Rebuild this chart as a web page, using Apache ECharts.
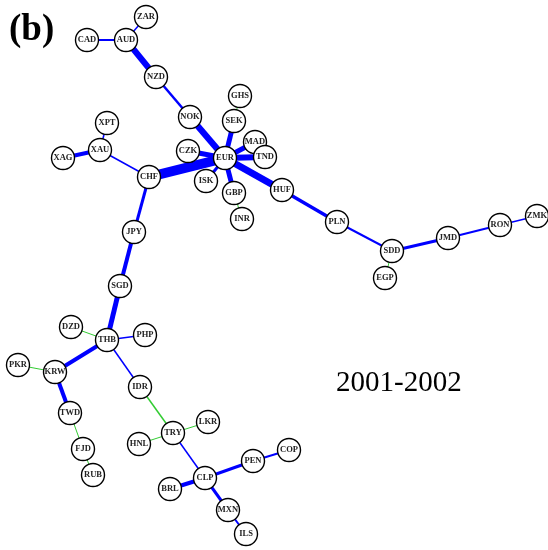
<!DOCTYPE html>
<html>
<head>
<meta charset="utf-8">
<script src="https://cdn.jsdelivr.net/npm/echarts@6/dist/echarts.min.js"></script>
<style>
html, body { margin: 0; padding: 0; background: #fff; }
#chart { width: 548px; height: 550px; }
</style>
</head>
<body>
<div id="chart"></div>
<script>
// node names and their positions (pixel-like units)
const nodeNames = ['ZAR','CAD','AUD','NZD','NOK','GHS','SEK','CZK','EUR','MAD','TND','ISK','GBP','INR','HUF','PLN','SDD','EGP','JMD','RON','ZMK',
    'XPT','XAU','XAG','CHF','JPY','SGD','DZD','THB','PHP','PKR','KRW','IDR','TWD','FJD','RUB','HNL','TRY','LKR','CLP','BRL','PEN','COP','MXN','ILS'];
const nodeX = [146,87,126,156,190,240,234,188,225,255,265,206,234,242,282,337,392,385,448,500,537,
    107,100,63,149,134,120,71,107,145,18,55,140,70,83,93,139,173,208,205,170,253,289,228,246];
const nodeY = [17,40,40,77,117,96,121,151,158,142,157,181,193,219,190,222,251,278,238,225,216,
    123,150,158,177,232,286,327,340,335,365,372,387,413,449,475,444,433,422,478,489,461,450,510,534];

// edges: from, to, weight (line width), kind (b = blue, g = green)
const edgeFrom = ['CAD','AUD','AUD','NZD','NOK','SEK','SEK','CZK','MAD','TND','ISK','GBP','GBP','EUR','EUR','HUF','PLN','SDD','SDD','JMD','RON',
    'XPT','XAU','XAU','CHF','JPY','SGD','THB','THB','THB','THB','KRW','KRW','TWD','FJD','IDR','TRY','TRY','TRY','CLP','CLP','PEN','CLP','MXN'];
const edgeTo = ['AUD','ZAR','NZD','NOK','EUR','GHS','EUR','EUR','EUR','EUR','EUR','EUR','INR','HUF','CHF','PLN','SDD','EGP','JMD','RON','ZMK',
    'XAU','XAG','CHF','JPY','SGD','THB','DZD','PHP','KRW','IDR','PKR','TWD','FJD','RUB','TRY','HNL','LKR','CLP','BRL','PEN','COP','MXN','ILS'];
const edgeWidth = [2,1.5,6,2.5,6.5,1,5,5,5,6,3,5,1,7,10,3.5,2,1,3,2,1.5,
    1.5,4,1.5,3,4,5,1,1.5,4,1.5,1,4,1,1,1.5,1,1,1.5,4,3,2,3,2];
const edgeKind = ['b','b','b','b','b','g','b','b','b','b','b','b','g','b','b','b','b','g','b','b','b',
    'b','b','b','b','b','b','g','b','b','b','g','b','g','g','g','g','g','b','b','b','b','b','b'];

const edgeColors = { b: '#0000ff', g: '#33cc33' };

const nodes = nodeNames.map((n, i) => ({ name: n, value: [nodeX[i], nodeY[i]] }));
const links = edgeFrom.map((f, i) => ({
    source: f,
    target: edgeTo[i],
    lineStyle: { width: edgeWidth[i], color: edgeColors[edgeKind[i]], opacity: 1 }
}));

const myChart = echarts.init(document.getElementById('chart'));
const option = {
    backgroundColor: '#fff',
    animation: false,
    grid: { left: 0, right: 0, top: 0, bottom: 0 },
    xAxis: { type: 'value', min: 0, max: 548, show: false },
    yAxis: { type: 'value', min: 0, max: 550, inverse: true, show: false },
    graphic: [
        {
            type: 'text', left: 9, top: 12,
            style: { text: '(b)', font: 'bold 37px "Liberation Serif"', fill: '#000' }
        },
        {
            type: 'text', left: 336, top: 369,
            style: { text: '2001-2002', font: '29px "Liberation Serif"', fill: '#000' }
        }
    ],
    series: [{
        type: 'graph',
        coordinateSystem: 'cartesian2d',
        symbol: 'circle',
        symbolSize: 23,
        itemStyle: { color: '#fff', borderColor: '#000', borderWidth: 1.4 },
        label: {
            show: true,
            position: 'inside',
            fontFamily: 'Liberation Serif',
            fontWeight: 'bold',
            fontSize: 8.5,
            color: '#222'
        },
        emphasis: { disabled: true },
        data: nodes,
        links: links
    }]
};
myChart.setOption(option);
</script>
</body>
</html>
